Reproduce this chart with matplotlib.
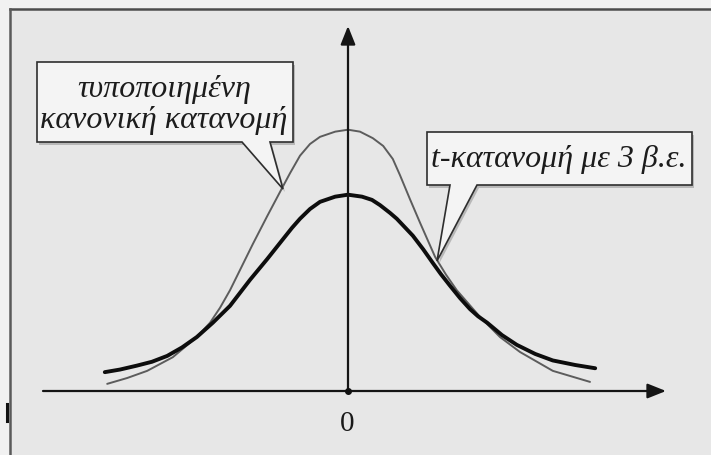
import matplotlib.pyplot as plt
from matplotlib.patches import Polygon, Rectangle

# standard normal density (thin grey curve)
norm_x = [-3.01, -2.76, -2.51, -2.19, -1.89, -1.725, -1.60, -1.475, -1.19, -1.01,
          -0.825, -0.725, -0.60, -0.475, -0.35, -0.16, 0.0, 0.15, 0.31, 0.44,
          0.56, 0.65, 0.775, 0.90, 1.09, 1.225, 1.36, 1.65, 1.90, 2.15, 2.56,
          3.025]
norm_y = [0.011, 0.020, 0.031, 0.052, 0.083, 0.105, 0.128, 0.155, 0.226, 0.269,
          0.312, 0.335, 0.362, 0.380, 0.391, 0.399, 0.402, 0.399, 0.389, 0.377,
          0.357, 0.332, 0.295, 0.259, 0.206, 0.179, 0.155, 0.114, 0.083, 0.060,
          0.031, 0.014]

# t density with 3 degrees of freedom (thick black curve)
t3_x = [-3.04, -2.85, -2.64, -2.45, -2.26, -2.075, -1.89, -1.69, -1.475, -1.35,
        -1.225, -1.01, -0.81, -0.70, -0.60, -0.475, -0.35, -0.16, 0.0, 0.175,
        0.30, 0.40, 0.525, 0.61, 0.71, 0.81, 0.94, 1.06, 1.16, 1.275, 1.40,
        1.525, 1.625, 1.74, 1.925, 2.11, 2.34, 2.56, 2.84, 3.09]
t3_y = [0.029, 0.033, 0.039, 0.045, 0.054, 0.067, 0.083, 0.105, 0.131, 0.151,
        0.171, 0.203, 0.234, 0.251, 0.265, 0.280, 0.291, 0.299, 0.302, 0.299,
        0.294, 0.286, 0.274, 0.265, 0.252, 0.239, 0.218, 0.197, 0.180, 0.162,
        0.143, 0.126, 0.115, 0.105, 0.086, 0.071, 0.057, 0.047, 0.040, 0.035]

zero_label = "0"
norm_label = "τυποποιημένη\nκανονική κατανομή"
t3_label = "t-κατανομή με 3 β.ε."

W, H = 711, 456
X0, Y0, SX, SY = 348, 392, 80, 650   # origin pixel and pixels per unit


def P(x, y):
    # pixel position (from the top-left corner) -> data coordinates
    return ((x - X0) / SX, (Y0 - y) / SY)


fig = plt.figure(figsize=(W / 100, H / 100), dpi=100)
fig.patch.set_facecolor('#f1f1f1')
ax = fig.add_axes([0, 0, 1, 1])
ax.set_xlim(P(0, 0)[0], P(W, 0)[0])
ax.set_ylim(P(0, H)[1], P(0, 0)[1])
ax.axis('off')

# paper panel with its top and left rule
x0, y0 = P(10, H)
x1, y1 = P(W, 10)
ax.add_patch(Rectangle((x0, y0), x1 - x0, y1 - y0, facecolor='#e7e7e7',
                       edgecolor='none', zorder=0))
ax.plot(*zip(P(10, 10), P(W, 10)), color='#4d4d4d', lw=1.8, zorder=1)
ax.plot(*zip(P(10, 10), P(10, H)), color='#5a5a5a', lw=1.8, zorder=1)
ax.plot(*zip(P(7, 405), P(7, 422)), color='#111111', lw=2.2, zorder=1)

# axes with arrow heads
arrow = dict(arrowstyle='-|>,head_length=0.7,head_width=0.28', color='#151515',
             lw=1.6, mutation_scale=16, shrinkA=0, shrinkB=0)
ax.annotate('', xy=P(666, 392), xytext=P(43, 392), arrowprops=arrow, zorder=3)
ax.annotate('', xy=P(348, 27), xytext=P(348, 392), arrowprops=arrow, zorder=3)
ax.plot([0], [0], 'o', color='#111111', ms=4, zorder=4)
ax.text(*P(347, 424), zero_label, ha='center', va='center', fontsize=21,
        family='Liberation Serif', color='#1a1a1a')

# the two densities
ax.plot(norm_x, norm_y, color='#5c5c5c', lw=1.4, solid_joinstyle='round',
        solid_capstyle='round', zorder=2)
ax.plot(t3_x, t3_y, color='#0d0d0d', lw=2.8, solid_joinstyle='round',
        solid_capstyle='round', zorder=2)


def callout(box, gap, tip, text, text_xy, fs):
    left, top, right, bottom = box
    g0, g1 = gap
    pts = [(left, top), (right, top), (right, bottom), (g1, bottom), tip,
           (g0, bottom), (left, bottom)]
    shadow = [P(x + 2, y + 3) for x, y in pts]
    ax.add_patch(Polygon(shadow, closed=True, facecolor='#9a9a9a',
                         edgecolor='none', alpha=0.6, zorder=5))
    ax.add_patch(Polygon([P(x, y) for x, y in pts], closed=True,
                         facecolor='#f4f4f4', edgecolor='#2e2e2e', lw=1.2,
                         joinstyle='miter', zorder=6))
    ax.text(*P(*text_xy), text, ha='center', va='center', fontsize=fs,
            style='italic', family='Liberation Serif', color='#1c1c1c',
            linespacing=1.12, zorder=7)


callout((37, 63, 293, 143), (242, 270), (283, 190), norm_label, (164, 105), 23)
callout((427, 133, 692, 186), (450, 477), (437, 262), t3_label, (559, 160), 23)

fig.savefig('out.png', dpi=100, facecolor=fig.get_facecolor())
